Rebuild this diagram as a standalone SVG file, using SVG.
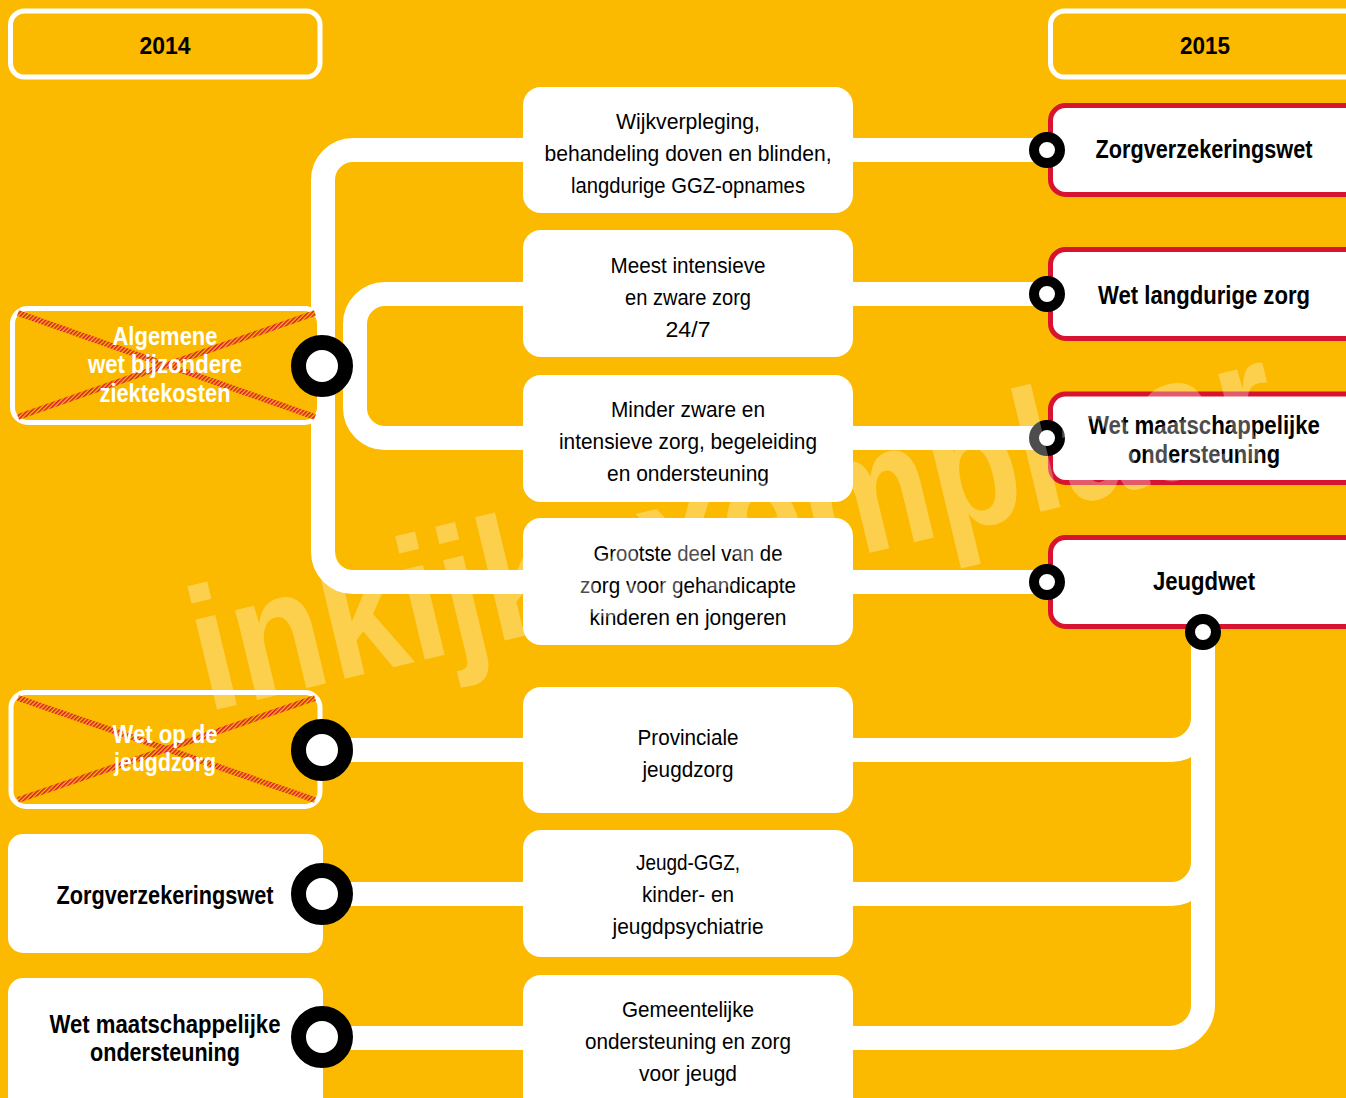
<svg xmlns="http://www.w3.org/2000/svg" width="1346" height="1098" viewBox="0 0 1346 1098">
<defs>
<style>
.bg{fill:#FBBA00}
.yr{fill:#FBBA00;stroke:#fff;stroke-width:5}
.wb{fill:#fff}
.rb{fill:#fff;stroke:#D7132F;stroke-width:5}
.mb{fill:#fff}
.ln{fill:none;stroke:#fff;stroke-width:24}
.bigc{fill:#fff;stroke:#000;stroke-width:15}
.smc{fill:#fff;stroke:#000;stroke-width:10}
.x{stroke:url(#hatch);stroke-width:6;fill:none}
text{font-family:"Liberation Sans",Arial,sans-serif;text-anchor:middle}
.b{font-weight:bold;font-size:25px;fill:#000}
.bw{font-weight:bold;font-size:25px;fill:#fff}
.y{font-weight:bold;font-size:23px;fill:#000}
.r{font-size:22px;fill:#000}
.wm{font-weight:bold;font-size:175px;fill:#fff;fill-opacity:0.3;text-anchor:start}
</style>
<pattern id="hatch" patternUnits="userSpaceOnUse" width="3" height="3" patternTransform="rotate(45)">
<rect width="3" height="3" fill="#FBBA00"/>
<rect width="1.6" height="3" fill="#D8173A"/>
</pattern>
</defs>
<rect class="bg" x="0" y="0" width="1346" height="1098"/>

<g id="connectors">
<path class="ln" d="M1047 150 H353 A30 30 0 0 0 323 180 V552 A30 30 0 0 0 353 582 H1047"/>
<path class="ln" d="M1047 294 H385 A30 30 0 0 0 355 324 V408 A30 30 0 0 0 385 438 H1047"/>
<path class="ln" d="M323 366 H355"/>
<path class="ln" d="M1203 632 V1005 A33 33 0 0 1 1170 1038 H323"/>
<path class="ln" d="M323 750 H1171 A32 32 0 0 0 1203 718"/>
<path class="ln" d="M323 894 H1171 A32 32 0 0 0 1203 862"/>
</g>

<g id="year-2014">
<rect class="yr" x="10.5" y="11" width="309.5" height="66" rx="14"/>
<text class="y" x="165" y="54" textLength="51" lengthAdjust="spacingAndGlyphs">2014</text>
</g>
<g id="year-2015">
<rect class="yr" x="1050.5" y="11" width="320" height="66" rx="14"/>
<text class="y" x="1205" y="54" textLength="50" lengthAdjust="spacingAndGlyphs">2015</text>
</g>

<g id="awbz">
<rect class="yr" x="12.5" y="308.5" width="307" height="114" rx="15"/>
<line class="x" x1="18" y1="313" x2="315" y2="417"/>
<line class="x" x1="18" y1="417" x2="315" y2="313"/>
<text class="bw" x="165" y="345" textLength="105" lengthAdjust="spacingAndGlyphs">Algemene</text>
<text class="bw" x="165" y="373" textLength="154" lengthAdjust="spacingAndGlyphs">wet bijzondere</text>
<text class="bw" x="165" y="402" textLength="131" lengthAdjust="spacingAndGlyphs">ziektekosten</text>
</g>

<g id="wjz">
<rect class="yr" x="11" y="692.5" width="309" height="114" rx="15"/>
<line class="x" x1="18" y1="698" x2="315" y2="800"/>
<line class="x" x1="18" y1="800" x2="315" y2="698"/>
<text class="bw" x="165" y="743" textLength="105" lengthAdjust="spacingAndGlyphs">Wet op de</text>
<text class="bw" x="165" y="771" textLength="102" lengthAdjust="spacingAndGlyphs">jeugdzorg</text>
</g>

<g id="zvw-2014">
<rect class="wb" x="8" y="834" width="315" height="119" rx="15"/>
<text class="b" x="165" y="904" textLength="217" lengthAdjust="spacingAndGlyphs">Zorgverzekeringswet</text>
</g>
<g id="wmo-2014">
<rect class="wb" x="8" y="978" width="315" height="140" rx="15"/>
<text class="b" x="165" y="1033" textLength="231" lengthAdjust="spacingAndGlyphs">Wet maatschappelijke</text>
<text class="b" x="165" y="1061" textLength="150" lengthAdjust="spacingAndGlyphs">ondersteuning</text>
</g>

<g id="m1">
<rect class="mb" x="523" y="87" width="330" height="126" rx="18"/>
<text class="r" x="688" y="129" textLength="144" lengthAdjust="spacingAndGlyphs">Wijkverpleging,</text>
<text class="r" x="688" y="161" textLength="287" lengthAdjust="spacingAndGlyphs">behandeling doven en blinden,</text>
<text class="r" x="688" y="193" textLength="234" lengthAdjust="spacingAndGlyphs">langdurige GGZ-opnames</text>
</g>
<g id="m2">
<rect class="mb" x="523" y="230" width="330" height="127" rx="18"/>
<text class="r" x="688" y="273" textLength="155" lengthAdjust="spacingAndGlyphs">Meest intensieve</text>
<text class="r" x="688" y="305" textLength="126" lengthAdjust="spacingAndGlyphs">en zware zorg</text>
<text class="r" x="688" y="337" textLength="45" lengthAdjust="spacingAndGlyphs">24/7</text>
</g>
<g id="m3">
<rect class="mb" x="523" y="375" width="330" height="127" rx="18"/>
<text class="r" x="688" y="417" textLength="154" lengthAdjust="spacingAndGlyphs">Minder zware en</text>
<text class="r" x="688" y="449" textLength="258" lengthAdjust="spacingAndGlyphs">intensieve zorg, begeleiding</text>
<text class="r" x="688" y="481" textLength="162" lengthAdjust="spacingAndGlyphs">en ondersteuning</text>
</g>
<g id="m4">
<rect class="mb" x="523" y="518" width="330" height="127" rx="18"/>
<text class="r" x="688" y="561" textLength="189" lengthAdjust="spacingAndGlyphs">Grootste deel van de</text>
<text class="r" x="688" y="593" textLength="216" lengthAdjust="spacingAndGlyphs">zorg voor gehandicapte</text>
<text class="r" x="688" y="625" textLength="197" lengthAdjust="spacingAndGlyphs">kinderen en jongeren</text>
</g>
<g id="m5">
<rect class="mb" x="523" y="687" width="330" height="126" rx="18"/>
<text class="r" x="688" y="745" textLength="101" lengthAdjust="spacingAndGlyphs">Provinciale</text>
<text class="r" x="688" y="777" textLength="91" lengthAdjust="spacingAndGlyphs">jeugdzorg</text>
</g>
<g id="m6">
<rect class="mb" x="523" y="830" width="330" height="127" rx="18"/>
<text class="r" x="688" y="870" textLength="104" lengthAdjust="spacingAndGlyphs">Jeugd-GGZ,</text>
<text class="r" x="688" y="902" textLength="92" lengthAdjust="spacingAndGlyphs">kinder- en</text>
<text class="r" x="688" y="934" textLength="151" lengthAdjust="spacingAndGlyphs">jeugdpsychiatrie</text>
</g>
<g id="m7">
<rect class="mb" x="523" y="975" width="330" height="140" rx="18"/>
<text class="r" x="688" y="1017" textLength="132" lengthAdjust="spacingAndGlyphs">Gemeentelijke</text>
<text class="r" x="688" y="1049" textLength="206" lengthAdjust="spacingAndGlyphs">ondersteuning en zorg</text>
<text class="r" x="688" y="1081" textLength="98" lengthAdjust="spacingAndGlyphs">voor jeugd</text>
</g>

<g id="zvw-2015">
<rect class="rb" x="1050.5" y="105.5" width="320" height="89" rx="15"/>
<text class="b" x="1204" y="158" textLength="217" lengthAdjust="spacingAndGlyphs">Zorgverzekeringswet</text>
</g>
<g id="wlz-2015">
<rect class="rb" x="1050.5" y="249.5" width="320" height="89" rx="15"/>
<text class="b" x="1204" y="304" textLength="212" lengthAdjust="spacingAndGlyphs">Wet langdurige zorg</text>
</g>
<g id="wmo-2015">
<rect class="rb" x="1050.5" y="394" width="320" height="88.5" rx="15"/>
<text class="b" x="1204" y="434" textLength="232" lengthAdjust="spacingAndGlyphs">Wet maatschappelijke</text>
<text class="b" x="1204" y="463" textLength="152" lengthAdjust="spacingAndGlyphs">ondersteuning</text>
</g>
<g id="jw-2015">
<rect class="rb" x="1050.5" y="537.5" width="320" height="89" rx="15"/>
<text class="b" x="1204" y="590" textLength="102" lengthAdjust="spacingAndGlyphs">Jeugdwet</text>
</g>

<g id="ports">
<circle class="bigc" cx="322" cy="366" r="23.5"/>
<circle class="bigc" cx="322" cy="750" r="23.5"/>
<circle class="bigc" cx="322" cy="894" r="23.5"/>
<circle class="bigc" cx="322" cy="1037" r="23.5"/>
<circle class="smc" cx="1047" cy="150" r="13"/>
<circle class="smc" cx="1047" cy="294" r="13"/>
<circle class="smc" cx="1047" cy="438" r="13"/>
<circle class="smc" cx="1047" cy="582" r="13"/>
<circle class="smc" cx="1203" cy="632" r="13"/>
</g>

<text class="wm" x="207" y="712" transform="rotate(-13.5 207 712)" textLength="1110" lengthAdjust="spacingAndGlyphs">inkijkexemplaar</text>
</svg>
